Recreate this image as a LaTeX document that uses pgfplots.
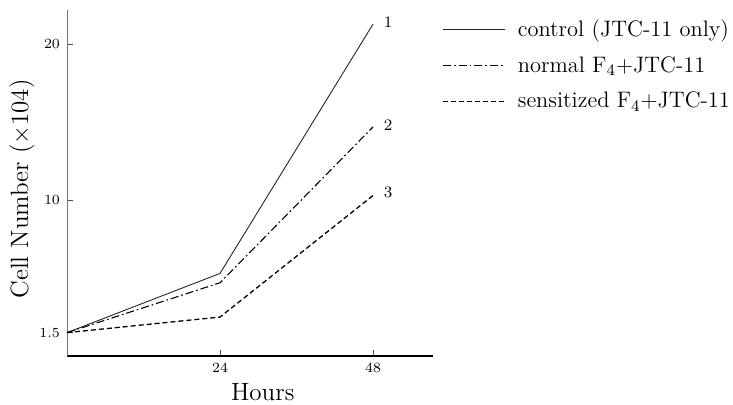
\documentclass[border=0pt]{standalone}
\usepackage{pgfplots}
\pgfplotsset{compat=1.18}
\begin{document}
\begin{tikzpicture}
\path[use as bounding box] (-33.5pt,-24pt) rectangle (333pt,178pt);
\begin{axis}[
  scale only axis,
  width=183pt, height=173pt,
  xmin=0, xmax=57.4, ymin=0, ymax=22.2,
  axis lines=left,
  axis line style={-},
  x axis line style={line width=1.1pt, black},
  y axis line style={line width=0.4pt, black!55},
  xtick={24,48}, ytick={1.5,10,20},
  yticklabels={1.5,10,20},
  tick align=inside,
  major tick length=3pt,
  tick style={black!70, line width=0.4pt},
  ticklabel style={font=\fontsize{7}{8}\selectfont},
  xlabel={Hours},
  ylabel={Cell Number ($\times$104)},
  label style={font=\fontsize{12.5}{14}\selectfont},
  x label style={at={(axis description cs:0.535,0)}, anchor=north, yshift=-10pt},
  y label style={at={(axis description cs:-0.123,0.483)}, anchor=center},
  legend style={at={(axis description cs:1.025,0.985)}, anchor=north west,
    draw=none, fill=none, font=\fontsize{11.2}{13}\selectfont,
    row sep=4.5pt, inner sep=0pt},
  legend cell align=left,
  legend image code/.code={\draw[#1] (0pt,0pt) -- (31pt,0pt); \path (35pt,0pt);},
  clip=false,
]
\addplot[black!85, line width=0.45pt] coordinates {(0,1.5) (24,5.3) (48,21.3)};
\addlegendentry{control (JTC-11 only)}
\addplot[black, line width=0.55pt, dash pattern=on 4pt off 1.5pt on 0.8pt off 1.5pt] coordinates {(0,1.5) (24,4.7) (48,14.7)};
\addlegendentry{normal F$_4$+JTC-11}
\addplot[black, line width=0.65pt, dash pattern=on 2.5pt off 1.5pt] coordinates {(0,1.5) (24,2.5) (48,10.3)};
\addlegendentry{sensitized F$_4$+JTC-11}
\node[font=\fontsize{8}{9}\selectfont, anchor=west] at (axis cs:48.6,21.4) {1};
\node[font=\fontsize{8}{9}\selectfont, anchor=west] at (axis cs:48.6,14.8) {2};
\node[font=\fontsize{8}{9}\selectfont, anchor=west] at (axis cs:48.6,10.5) {3};
\end{axis}
\end{tikzpicture}
\end{document}
